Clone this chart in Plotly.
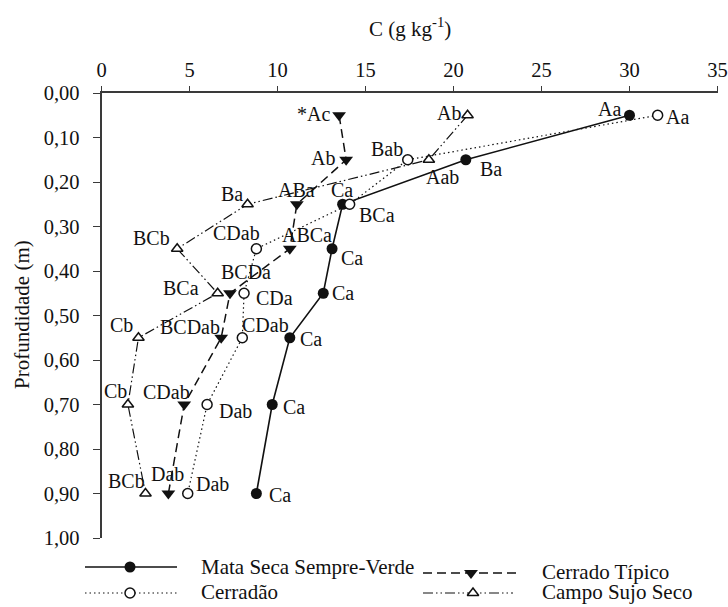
import plotly.graph_objects as go

# Soil depth of each sampling layer (m)
depth = [0.05, 0.15, 0.25, 0.35, 0.45, 0.55, 0.70, 0.90]
depth_ticks = [0.0, 0.1, 0.2, 0.3, 0.4, 0.5, 0.6, 0.7, 0.8, 0.9, 1.0]
depth_ticktext = ["0,00", "0,10", "0,20", "0,30", "0,40", "0,50",
                  "0,60", "0,70", "0,80", "0,90", "1,00"]
carbon_ticks = [0, 5, 10, 15, 20, 25, 30, 35]

# Carbon content (g kg-1) per vegetation type
mata = [30.0, 20.7, 13.7, 13.1, 12.6, 10.7, 9.7, 8.8]
cerradao = [31.6, 17.4, 14.1, 8.8, 8.1, 8.0, 6.0, 4.9]
cerrado_tipico = [13.5, 13.9, 11.1, 10.7, 7.3, 6.8, 4.7, 3.8]
campo_sujo = [20.8, 18.6, 8.3, 4.3, 6.6, 2.1, 1.5, 2.5]

# Mean-comparison letters
mata_letters = ["Aa", "Ba", "Ca", "Ca", "Ca", "Ca", "Ca", "Ca"]
cerradao_letters = ["Aa", "Bab", "BCa", "CDab", "CDa", "CDab", "Dab", "Dab"]
tipico_letters = ["*Ac", "Ab", "ABa", "ABCa", "BCDa", "BCDab", "CDab", "Dab"]
campo_letters = ["Ab", "Aab", "Ba", "BCb", "BCa", "Cb", "Cb", "BCb"]

# Pixel offsets (right, down) of each letter group from its marker
mata_off = [(-20, -6), (25, 9), (-1, -14), (20, 9), (20, 0), (21, 1), (22, 2), (24, 1)]
cerradao_off = [(20, 2), (-21, -11), (27, 11), (-20, -16), (30, 5), (23, -13), (28, 6), (25, -10)]
tipico_off = [(-26, -1), (-23, -2), (0, -14), (17, -14), (16, -21), (-31, -11), (-18, -13), (-1, -20)]
campo_off = [(-19, -2), (14, 17), (-16, -10), (-26, -11), (-37, -5), (-17, -13), (-12, -14), (-19, -13)]

W, H = 728, 607
FONT = "Liberation Serif"
INK = "#111111"
AXIS = "#3a3a3a"


def px(x):
    return x / W


def py(y):
    return 1 - y / H


series = [
    dict(name="Mata Seca Sempre-Verde", x=mata, letters=mata_letters, off=mata_off,
         dash="solid", lw=1.6, symbol="circle", size=11, fill=INK, mlw=0),
    dict(name="Cerrado Típico", x=cerrado_tipico, letters=tipico_letters, off=tipico_off,
         dash="9px,5px", lw=1.5, symbol="triangle-down", size=12, fill=INK, mlw=0),
    dict(name="Campo Sujo Seco", x=campo_sujo, letters=campo_letters, off=campo_off,
         dash="10px,3px,1.5px,3px,1.5px,3px", lw=1.2, symbol="triangle-up", size=10,
         fill="white", mlw=1.5),
    dict(name="Cerradão", x=cerradao, letters=cerradao_letters, off=cerradao_off,
         dash="1.5px,3px", lw=1.2, symbol="circle", size=10, fill="white", mlw=1.5),
]

fig = go.Figure()

for s in series:
    fig.add_trace(go.Scatter(
        x=s["x"], y=depth, mode="lines+markers", name=s["name"],
        line=dict(color=INK, width=s["lw"], dash=s["dash"]),
        marker=dict(symbol=s["symbol"], size=s["size"], color=s["fill"],
                    line=dict(color=INK, width=s["mlw"])),
        xaxis="x", yaxis="y", showlegend=False, cliponaxis=False,
    ))
    for xv, dv, lab, (dx, dy) in zip(s["x"], depth, s["letters"], s["off"]):
        fig.add_annotation(
            x=xv, y=dv, xref="x", yref="y", text=lab, showarrow=False,
            xanchor="center", yanchor="middle", xshift=dx, yshift=-dy,
            font=dict(family=FONT, size=20, color=INK),
        )

# Hand-drawn key below the chart, laid out in pixel space on an overlay axis
key = [
    (0, 85, 177, 567, 130, 199, 567),
    (3, 85, 177, 593, 130, 199, 592),
    (1, 423, 518, 573, 471, 540, 572),
    (2, 423, 513, 593, 473, 540, 592),
]
for idx, x0, x1, yk, xm, xt, yt in key:
    s = series[idx]
    fig.add_trace(go.Scatter(
        x=[x0, x1], y=[yk, yk], mode="lines",
        line=dict(color=INK, width=s["lw"], dash=s["dash"]),
        xaxis="x2", yaxis="y2", showlegend=False, hoverinfo="skip",
    ))
    fig.add_trace(go.Scatter(
        x=[xm], y=[yk], mode="markers",
        marker=dict(symbol=s["symbol"], size=s["size"], color=s["fill"],
                    line=dict(color=INK, width=s["mlw"])),
        xaxis="x2", yaxis="y2", showlegend=False, hoverinfo="skip",
    ))
    fig.add_annotation(
        x=px(xt), y=py(yt), xref="paper", yref="paper", text=s["name"],
        showarrow=False, xanchor="left", yanchor="middle",
        font=dict(family=FONT, size=21, color=INK),
    )

# Axis titles
fig.add_annotation(
    x=px(410), y=py(28), xref="paper", yref="paper",
    text="C (g kg<sup>-1</sup>)", showarrow=False,
    xanchor="center", yanchor="middle",
    font=dict(family=FONT, size=21, color=INK),
)
fig.add_annotation(
    x=px(22), y=py(315), xref="paper", yref="paper",
    text="Profundidade (m)", showarrow=False, textangle=-90,
    xanchor="center", yanchor="middle",
    font=dict(family=FONT, size=21, color=INK),
)

fig.update_layout(
    width=W, height=H,
    margin=dict(l=0, r=0, t=0, b=0, pad=0, autoexpand=False),
    showlegend=False,
    paper_bgcolor="white", plot_bgcolor="rgba(0,0,0,0)",
    font=dict(family=FONT, size=20, color=INK),
    xaxis=dict(
        domain=[px(101.5), px(717.5)], range=[0, 35], side="top", anchor="y",
        tickvals=carbon_ticks, ticks="outside", ticklen=5, tickwidth=1.3,
        tickcolor=AXIS, showline=True, linecolor=AXIS, linewidth=1.6,
        showgrid=False, zeroline=False, ticklabelstandoff=1, automargin=False,
        tickfont=dict(family=FONT, size=20.5, color=INK),
    ),
    yaxis=dict(
        domain=[py(538), py(93)], range=[1.0, 0.0], anchor="x",
        tickvals=depth_ticks, ticktext=depth_ticktext,
        ticks="outside", ticklen=7, tickwidth=1.3, tickcolor=AXIS,
        showline=True, linecolor=AXIS, linewidth=1.6,
        showgrid=False, zeroline=False, ticklabelstandoff=9, automargin=False,
        tickfont=dict(family=FONT, size=20.5, color=INK),
    ),
    xaxis2=dict(domain=[0, 1], range=[0, W], anchor="y2", visible=False,
                fixedrange=True, automargin=False),
    yaxis2=dict(domain=[0, 1], range=[H, 0], anchor="x2", visible=False,
                fixedrange=True, automargin=False),
)

fig.write_html("out.html")
